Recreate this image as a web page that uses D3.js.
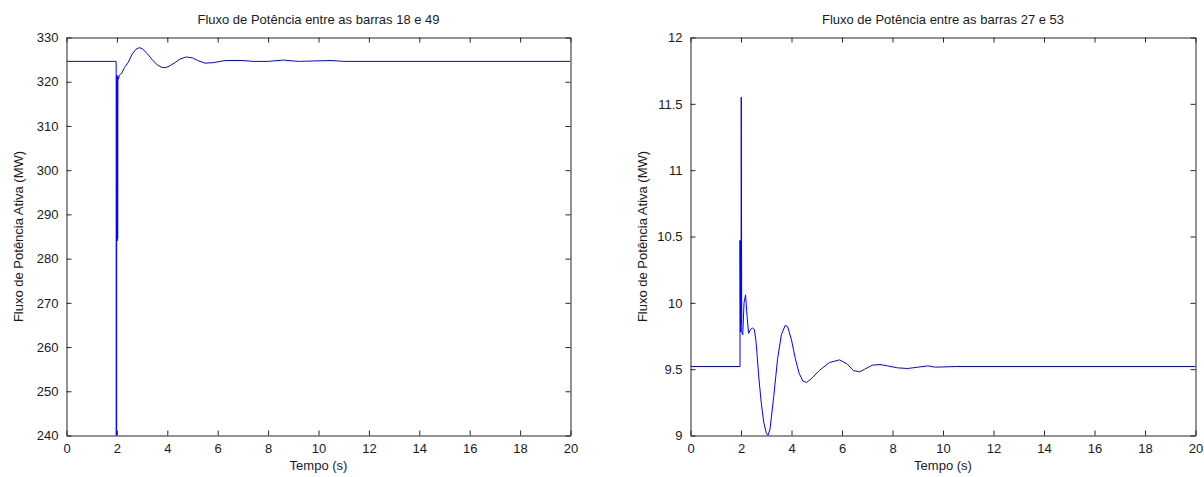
<!DOCTYPE html>
<html>
<head>
<meta charset="utf-8">
<script src="https://cdn.jsdelivr.net/npm/d3@7"></script>
<style>
  body { margin: 0; background: #fff; }
  text { font-family: "Liberation Sans", Arial, sans-serif; }
</style>
</head>
<body>
<script>
// dados: [tempo (s), fluxo (MW)]
let flow1849 = [
  [0, 324.6], [1.97, 324.6], [1.97, 240], [1.99, 240], [1.99, 284], [2.0, 321.5],
  [2.01, 284], [2.02, 321], [2.03, 284.5], [2.04, 321.2], [2.06, 320.6], [2.1, 321.5],
  [2.2, 322], [2.3, 323.2], [2.45, 324.4], [2.6, 326.2], [2.75, 327.3], [2.88, 327.7],
  [3.0, 327.5], [3.2, 326.4], [3.4, 325], [3.6, 323.8], [3.8, 323.2], [3.95, 323.2],
  [4.1, 323.6], [4.3, 324.3], [4.5, 325.1], [4.75, 325.6], [5.0, 325.4], [5.2, 324.8],
  [5.5, 324.2], [5.8, 324.3], [6.3, 324.8], [7.0, 324.8], [7.4, 324.6], [8.0, 324.6],
  [8.6, 324.9], [9.2, 324.6], [10.5, 324.8], [11.0, 324.6], [20, 324.6]
]
let flow2753 = [
  [0, 9.52], [1.96, 9.52], [1.96, 10.47], [1.98, 9.78], [1.99, 10.47], [2.0, 9.85],
  [2.01, 11.55], [2.03, 9.78], [2.07, 9.76], [2.12, 10.0], [2.18, 10.06], [2.24, 9.9],
  [2.3, 9.77], [2.38, 9.8], [2.45, 9.81], [2.53, 9.8], [2.6, 9.7], [2.7, 9.45],
  [2.8, 9.25], [2.9, 9.1], [3.0, 9.02], [3.07, 9.0], [3.15, 9.05], [3.3, 9.3],
  [3.45, 9.58], [3.6, 9.76], [3.75, 9.83], [3.85, 9.82], [4.0, 9.72], [4.15, 9.58],
  [4.3, 9.47], [4.45, 9.41], [4.6, 9.4], [4.8, 9.43], [5.1, 9.49], [5.5, 9.55],
  [5.9, 9.57], [6.2, 9.54], [6.45, 9.49], [6.7, 9.48], [6.9, 9.5], [7.2, 9.53],
  [7.5, 9.535], [7.8, 9.525], [8.2, 9.51], [8.6, 9.505], [9.0, 9.515], [9.4, 9.525],
  [9.7, 9.515], [10.5, 9.52], [20, 9.52]
]
let xTicks = [0, 2, 4, 6, 8, 10, 12, 14, 16, 18, 20]
let yTicks1 = [240, 250, 260, 270, 280, 290, 300, 310, 320, 330]
let yTicks2 = [9, 9.5, 10, 10.5, 11, 11.5, 12]

let w = 1204, h = 477
let svg = d3.select("body").append("svg").attr("width", w).attr("height", h)

function drawPanel(x0, x1, data, yDomain, yTicks, title) {
  let top = 37.5, bottom = 435.5
  let xScale = d3.scaleLinear().domain([0, 20]).range([x0, x1])
  let yScale = d3.scaleLinear().domain(yDomain).range([bottom, top])
  let g = svg.append("g")

  g.append("clipPath").attr("id", "clip" + x0)
    .append("rect").attr("x", x0).attr("y", top).attr("width", x1 - x0).attr("height", bottom - top)

  g.append("path")
    .datum(data)
    .attr("clip-path", "url(#clip" + x0 + ")")
    .attr("fill", "none")
    .attr("stroke", "#0000ff")
    .attr("stroke-width", 1)
    .attr("d", d3.line().x(d => xScale(d[0])).y(d => yScale(d[1])))

  // eixos estilo matlab: ticks para dentro, em todos os lados
  let style = sel => {
    sel.select(".domain").attr("stroke", "#262626")
    sel.selectAll(".tick line").attr("stroke", "#262626")
    sel.selectAll(".tick text").attr("fill", "#1a1a1a").style("font-size", "13px")
  }
  let fmt = d3.format("~g")
  g.append("g").attr("transform", "translate(0," + bottom + ")")
    .call(d3.axisBottom(xScale).tickValues(xTicks).tickSizeInner(-5).tickSizeOuter(0).tickPadding(8))
    .call(style)
  g.append("g").attr("transform", "translate(0," + top + ")")
    .call(d3.axisTop(xScale).tickValues(xTicks).tickSizeInner(-5).tickSizeOuter(0).tickFormat(""))
    .call(style)
  g.append("g").attr("transform", "translate(" + x0 + ",0)")
    .call(d3.axisLeft(yScale).tickValues(yTicks).tickFormat(fmt).tickSizeInner(-5).tickSizeOuter(0).tickPadding(8))
    .call(style)
  g.append("g").attr("transform", "translate(" + x1 + ",0)")
    .call(d3.axisRight(yScale).tickValues(yTicks).tickSizeInner(-5).tickSizeOuter(0).tickFormat(""))
    .call(style)

  g.append("text").attr("x", (x0 + x1) / 2).attr("y", 24).attr("text-anchor", "middle")
    .style("font-size", "13px").attr("fill", "#1a1a1a").text(title)
  g.append("text").attr("x", (x0 + x1) / 2).attr("y", 470).attr("text-anchor", "middle")
    .style("font-size", "13px").attr("fill", "#1a1a1a").text("Tempo (s)")
  g.append("text").attr("transform", "translate(" + (x0 - 44) + "," + ((top + bottom) / 2) + ") rotate(-90)")
    .attr("text-anchor", "middle").style("font-size", "13px").attr("fill", "#1a1a1a")
    .text("Fluxo de Potência Ativa (MW)")
}

drawPanel(66.5, 570.5, flow1849, [240, 330], yTicks1, "Fluxo de Potência entre as barras 18 e 49")
drawPanel(690.5, 1195.5, flow2753, [9, 12], yTicks2, "Fluxo de Potência entre as barras 27 e 53")
</script>
</body>
</html>
